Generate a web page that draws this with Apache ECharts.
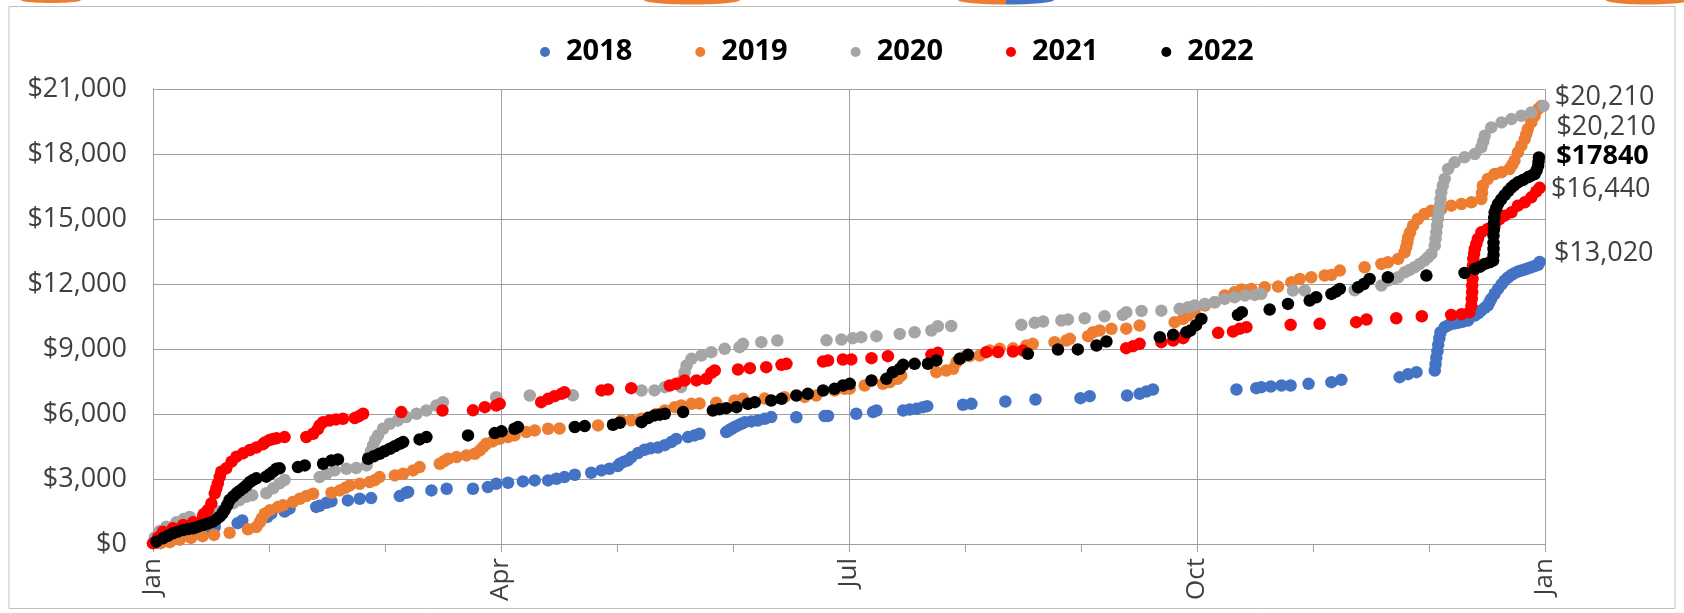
<!DOCTYPE html>
<html>
<head>
<meta charset="utf-8">
<script src="https://cdn.jsdelivr.net/npm/echarts@6/dist/echarts.min.js"></script>
<style>
html,body{margin:0;padding:0;background:#fff;}
#chart{width:1684px;height:613px;}
</style>
</head>
<body>
<div id="chart"></div>
<script>
// ---- data: [day of year, cumulative $] ----
const seriesNames = ['2018', '2019', '2020', '2021', '2022'];
const monthLabels = ['Jan', 'Apr', 'Jul', 'Oct', 'Jan'];
const endLabels = ['$13,020', '$20,210', '$20,210', '$16,440', '$17840'];

const s2018 = [[1,60],[3,150],[6,280],[9,400],[12,520],[14,620],[16.2,780],[22.2,960],[23.4,1090],[30,1250],[31,1400],[34.5,1500],[35.8,1630],[42.8,1710],[43.7,1760],[45.5,1900],[46.8,1970],[51.1,2013],[54.2,2090],[57.2,2121],[64.7,2213],[66.4,2367],[66.9,2398],[73,2475],[77,2551],[83.9,2551],[87.8,2628],[90,2782],[93.1,2828],[97,2890],[100.1,2936],[103.6,2936],[105.8,3012],[107.9,3089],[110.6,3197],[114.9,3289],[117.6,3397],[119.7,3474],[121.9,3600],[122.4,3700],[123.5,3800],[124.5,3858],[125.4,4000],[127.2,4200],[128.9,4350],[130.5,4420],[132.4,4450],[134.2,4560],[135.9,4703],[137.2,4850],[140.3,4934],[142,5011],[143.3,5087],[150.3,5164],[151,5240],[151.7,5318],[152.5,5400],[153.4,5472],[154.3,5550],[155.2,5625],[156.9,5656],[158.6,5702],[160.4,5779],[162.1,5856],[168.7,5850],[176.1,5902],[177,5910],[184.4,6010],[188.8,6087],[189.7,6163],[196.7,6163],[198.4,6209],[200.2,6240],[201.9,6317],[203,6363],[212.4,6425],[214.6,6471],[223.5,6578],[231.4,6671],[243.2,6732],[245.6,6824],[255.4,6855],[258.7,6932],[260.5,7039],[262.2,7132],[284.1,7132],[289.3,7193],[290.6,7239],[293.1,7270],[295.9,7316],[298.3,7316],[303,7393],[309,7470],[311.6,7577],[326.9,7700],[329.1,7839],[331.3,7931],[336.1,8008],[336.3,8300],[336.5,8600],[336.8,8900],[337,9200],[337.3,9500],[337.6,9775],[338.7,10006],[339.5,10080],[340.4,10160],[341.3,10180],[342.2,10206],[343.5,10260],[344.8,10313],[346.6,10544],[347.5,10650],[348.3,10774],[349.2,10900],[350,11005],[350.4,11150],[350.9,11312],[351.8,11550],[352.7,11773],[353.6,11980],[354.4,12158],[355.3,12300],[356.2,12419],[357,12500],[357.9,12573],[358.8,12620],[359.7,12665],[360.5,12720],[361.4,12773],[362.3,12830],[363.2,12880],[363.6,13020]];

const s2019 = [[2,40],[4.4,83],[7,200],[10,280],[13,360],[16,420],[20.1,520],[24.9,676],[27.1,784],[28,1000],[28.5,1168],[29.3,1400],[30.6,1552],[32.8,1706],[34.1,1783],[36.7,1937],[38.5,2090],[40.2,2213],[42,2321],[46.8,2367],[49,2475],[50.5,2600],[51.6,2705],[54.2,2782],[56.8,2859],[58.2,2950],[59.4,3089],[63.4,3166],[65.6,3243],[68.2,3397],[69.9,3550],[75.2,3704],[76.3,3820],[77.4,3935],[79.6,4012],[82.2,4088],[84.4,4165],[85.7,4319],[86.6,4480],[87.4,4626],[89.1,4734],[90.9,4857],[93.1,4934],[94.8,5011],[97.9,5164],[100.1,5241],[103.6,5318],[106.6,5330],[116.7,5472],[122.8,5702],[125.4,5710],[128.1,5779],[130,5850],[132,6000],[134.2,6163],[136.8,6317],[138.5,6394],[141.2,6471],[143.3,6480],[147.7,6517],[152.5,6624],[154.7,6701],[160.4,6710],[165.6,6778],[170.9,6790],[173.9,6855],[178.7,7086],[181.4,7162],[182.7,7170],[186.6,7316],[191.4,7393],[193.2,7470],[195.3,7624],[196.2,7777],[205.4,7931],[208,8008],[209.8,8085],[210.7,8392],[212.4,8623],[214.1,8669],[216.8,8700],[219.4,8930],[222,9007],[225.5,9030],[229,9161],[230.7,9238],[236.4,9315],[239.5,9392],[240.4,9468],[245.2,9591],[246.5,9775],[248.2,9852],[251.3,9929],[255.2,9940],[258.7,10083],[267.9,10237],[270.1,10390],[271.4,10544],[273.1,10698],[275.8,11005],[278.4,11159],[281,11466],[283.6,11620],[285.4,11743],[288,11774],[291.5,11851],[295,11882],[298.5,12081],[300.7,12235],[303.7,12312],[307.2,12389],[309,12419],[311.2,12619],[317.7,12773],[322.1,12926],[323.8,13003],[326.5,13157],[328.2,13464],[328.6,13700],[328.9,13925],[329.1,14150],[329.6,14386],[330.4,14694],[331.7,15001],[333.4,15232],[335.2,15386],[337.8,15463],[340.4,15616],[343.1,15693],[345.7,15770],[348.3,15924],[348.5,16200],[348.7,16538],[350,16845],[351.8,17076],[353.6,17153],[355.7,17307],[356.4,17500],[357,17691],[357.9,18075],[358.8,18383],[359.7,18690],[360.1,18920],[360.5,19151],[361.4,19459],[362.3,19766],[363.2,20073],[364,20210]];

const s2020 = [[0.5,300],[1.8,600],[3.5,800],[6.1,1000],[8,1150],[9.6,1250],[13.1,1350],[15,1420],[17,1500],[19,1650],[21,1878],[22.7,2031],[24.5,2184],[26,2250],[29.7,2341],[31.5,2571],[33.2,2801],[34.5,2954],[43.7,3089],[45.5,3243],[47.6,3397],[50.7,3474],[53.3,3504],[56,3627],[56.8,4088],[57.2,4300],[57.7,4550],[58.3,4800],[59,5011],[60.3,5318],[62.1,5549],[64.2,5702],[66.4,5856],[69.1,6010],[71.7,6163],[74.3,6394],[76,6548],[90,6778],[98.8,6855],[110.1,6860],[128.1,7086],[131.5,7090],[134.2,7239],[138.5,7245],[139,7600],[139.4,7931],[139.9,8238],[141.2,8546],[143.8,8700],[146.4,8853],[149.9,9007],[153.8,9084],[154.7,9238],[159.5,9315],[163.7,9392],[176.6,9400],[180.5,9437],[183.5,9499],[185.7,9545],[189.7,9591],[195.8,9698],[199.7,9775],[204.1,9852],[205.8,10052],[209.3,10060],[227.7,10114],[231.2,10206],[233.4,10268],[238.2,10314],[239.9,10360],[244.3,10421],[249.5,10513],[254.3,10575],[255.2,10698],[259.2,10759],[264.4,10770],[269.2,10852],[271.4,10928],[273.1,11005],[275.8,11082],[278.4,11159],[281,11312],[283.6,11389],[286.3,11466],[288.9,11497],[290.6,11543],[298.9,11697],[302,11700],[315.1,11710],[322.1,11928],[323.8,12158],[325.2,12230],[326.5,12312],[328.2,12542],[329.5,12650],[330.8,12773],[332.1,12920],[333.4,13080],[334.3,13230],[335.2,13387],[336.1,13771],[336.3,14080],[336.5,14386],[336.7,14700],[336.9,15001],[337.1,15300],[337.4,15616],[337.6,15920],[337.8,16231],[338.2,16540],[338.7,16845],[339.6,17307],[341.3,17614],[343.9,17845],[346.6,17998],[348.3,18306],[348.8,18580],[349.2,18844],[350.9,19228],[353.6,19459],[356.2,19612],[358.8,19766],[361.4,19920],[364.6,20210]];

const s2021 = [[0,30],[1.3,300],[2.6,568],[5.2,723],[7.9,877],[10.5,1000],[13.1,1260],[13.5,1400],[14.4,1569],[15.3,1877],[16.2,2339],[16.6,2570],[17,2800],[17.5,3100],[17.9,3338],[19.2,3493],[20.6,3800],[21.9,4031],[23.6,4186],[25.4,4339],[27.1,4450],[28.8,4600],[29.3,4680],[30.6,4800],[31.5,4850],[32.4,4878],[34.5,4934],[40.2,4940],[42,5087],[43.2,5300],[43.7,5472],[44.6,5625],[46.3,5702],[48,5750],[49.8,5779],[52.9,5810],[54,5900],[55.1,6010],[65.1,6087],[75.9,6163],[83.9,6170],[87,6317],[90,6394],[90.9,6471],[101.8,6548],[103.6,6701],[105.3,6824],[107.1,6932],[107.9,7000],[117.6,7090],[119.3,7132],[125.4,7193],[135.5,7316],[137.2,7393],[139.4,7547],[142.5,7550],[145.1,7624],[146.4,7900],[147.3,8008],[153.4,8054],[156.5,8115],[160.8,8161],[164.8,8269],[166.1,8315],[175.7,8423],[177,8469],[180.9,8515],[183.1,8520],[188.4,8577],[192.7,8669],[204.1,8730],[205.8,8823],[218.5,8853],[221.6,8860],[225.5,8884],[228.1,8930],[255.2,9038],[257,9130],[258.7,9238],[264.4,9314],[267.5,9391],[270.1,9499],[270.5,9622],[279.3,9745],[283.2,9806],[284.9,9929],[286.7,10006],[298.3,10114],[305.9,10160],[315.5,10237],[318.2,10360],[326,10421],[332.7,10513],[340.4,10575],[343.1,10606],[345.2,10698],[345.7,11000],[345.8,11312],[345.9,11620],[345.9,11927],[346,12230],[346,12542],[346.1,12850],[346.2,13157],[346.4,13400],[346.6,13618],[347,13850],[347.4,14079],[348.3,14386],[350,14540],[351.8,14694],[353.1,15001],[354.4,15155],[356.2,15309],[357.9,15616],[359.7,15770],[361.4,16001],[362.7,16262],[363.6,16440]];

const s2022 = [[0.9,106],[2.6,263],[3.9,380],[5.2,494],[6.5,570],[7.9,646],[9.2,690],[10.5,725],[11.8,800],[13.1,877],[14.4,950],[15.7,1029],[16.6,1140],[17.5,1260],[18.2,1400],[18.8,1569],[19.5,1800],[20.1,2031],[21,2190],[21.9,2340],[22.7,2450],[23.6,2571],[24.5,2700],[25.4,2860],[26.2,2950],[27.1,3032],[29.7,3106],[30.6,3220],[31.5,3337],[32.4,3474],[33.2,3493],[38,3550],[39.8,3627],[44.6,3704],[46.8,3858],[48.5,3904],[56.4,3935],[57.9,4050],[59.4,4165],[60.7,4280],[62.1,4396],[63.4,4510],[64.7,4626],[65.6,4703],[69.9,4826],[71.7,4934],[82.6,5011],[89.6,5120],[91.4,5200],[94.8,5318],[95.7,5395],[110.6,5400],[113.2,5441],[120.6,5502],[122.4,5595],[128.1,5625],[129.8,5810],[131.5,5933],[132.9,5970],[134.2,6010],[139,6087],[146.8,6163],[148.5,6220],[150.3,6271],[153,6317],[156,6471],[157.8,6548],[162.1,6624],[164.8,6701],[168.7,6855],[171.7,6932],[175.7,7086],[178.7,7162],[180.9,7316],[182.7,7393],[188.4,7547],[192.3,7624],[194,7931],[195.8,8085],[196.7,8269],[199.7,8315],[203.2,8320],[205.4,8469],[211.5,8546],[213.7,8730],[229.4,8776],[237.3,8976],[242.5,8980],[247.4,9161],[250,9345],[264,9545],[267.5,9653],[271,9775],[272,9850],[273.5,10100],[274.9,10390],[284.5,10575],[285.5,10700],[292.8,10821],[297.6,11082],[303.3,11235],[305,11389],[309,11543],[310.2,11650],[311.2,11774],[316,11851],[317.5,12000],[319,12235],[323.8,12312],[333.9,12389],[343.9,12511],[346.6,12695],[348,12800],[349.2,12926],[350.5,13000],[351.4,13080],[351.5,13350],[351.5,13618],[351.5,13900],[351.5,14233],[351.6,14500],[351.6,14800],[351.7,15050],[351.8,15300],[352.2,15500],[352.7,15700],[353.5,15900],[354.4,16100],[355.3,16280],[356.2,16450],[357,16570],[357.9,16692],[359.2,16800],[360.5,16922],[361.4,17000],[362.3,17076],[362.8,17250],[363.2,17461],[363.3,17650],[363.4,17840]];

// ---- styling ----
const allData = [s2018, s2019, s2020, s2021, s2022];
const colors = ['#4472C4', '#ED7D31', '#A5A5A5', '#FF0000', '#000000'];
const labelOffsets = [[8, -9], [9, 21], [5, -9], [5, 2], [11, -1]];
const labelBold = [false, false, false, false, true];
const FONT = 'Open Sans';
const GRID = '#a0a0a0';
const DOT = 12.5;

const chart = echarts.init(document.getElementById('chart'), null, {renderer: 'canvas'});

const series = seriesNames.map((name, k) => {
  const arr = allData[k];
  return {
    name: name,
    type: 'scatter',
    symbol: 'circle',
    symbolSize: DOT,
    itemStyle: {color: colors[k], opacity: 1},
    emphasis: {disabled: true},
    data: arr.map((p, i) => {
      const v = [p[0] * 12 / 365, p[1]];
      if (i === arr.length - 1) {
        return {
          value: v,
          label: {
            show: true,
            position: 'right',
            distance: 0,
            offset: labelOffsets[k],
            formatter: endLabels[k],
            fontFamily: FONT,
            fontSize: 27,
            fontWeight: labelBold[k] ? 'bold' : 'normal',
            color: labelBold[k] ? '#000' : '#404040'
          }
        };
      }
      return v;
    })
  };
});

chart.setOption({
  animation: false,
  backgroundColor: '#fff',
  textStyle: {fontFamily: FONT},
  legend: {
    data: seriesNames.map((n, k) => ({name: n, icon: 'circle', itemStyle: {color: colors[k]}})),
    left: 535,
    top: 31,
    itemWidth: 32,
    itemHeight: 10,
    itemGap: 63,
    selectedMode: false,
    textStyle: {fontFamily: FONT, fontSize: 29, fontWeight: 'bold', color: '#000', lineHeight: 32}
  },
  grid: {left: 153, right: 139, top: 89, bottom: 69, containLabel: false},
  xAxis: {
    type: 'value',
    min: 0,
    max: 12,
    interval: 1,
    axisLine: {show: true, lineStyle: {color: GRID, width: 1}},
    axisTick: {show: true, length: 8, lineStyle: {color: GRID}},
    splitLine: {show: true, lineStyle: {color: [GRID, 'rgba(0,0,0,0)', 'rgba(0,0,0,0)'], width: 1}},
    axisLabel: {
      rotate: 90,
      margin: 14,
      fontFamily: FONT,
      fontSize: 26,
      color: '#404040',
      formatter: function (v) {
        const i = Math.round(v);
        return i % 3 === 0 ? monthLabels[i / 3] : '';
      }
    }
  },
  yAxis: {
    type: 'value',
    min: 0,
    max: 21000,
    interval: 3000,
    axisLine: {show: true, lineStyle: {color: GRID, width: 1}},
    axisTick: {show: false},
    splitLine: {show: true, lineStyle: {color: GRID, width: 1}},
    axisLabel: {
      margin: 26,
      fontFamily: FONT,
      fontSize: 27,
      color: '#404040',
      formatter: function (v) { return '$' + v.toLocaleString('en-US'); }
    }
  },
  graphic: [
    {type: 'rect', silent: true, z: -1, shape: {x: 9, y: 6.5, width: 1666, height: 602}, style: {fill: 'none', stroke: '#bfbfbf', lineWidth: 1}},
    {type: 'ellipse', silent: true, shape: {cx: 51, cy: 0, rx: 30, ry: 3}, style: {fill: '#ED7D31'}},
    {type: 'ellipse', silent: true, shape: {cx: 692, cy: 0, rx: 48, ry: 4.5}, style: {fill: '#ED7D31'}},
    {type: 'sector', silent: true, x: 1006, y: 0, scaleY: 0.095, shape: {cx: 0, cy: 0, r: 48, startAngle: Math.PI / 2, endAngle: Math.PI}, style: {fill: '#ED7D31'}},
    {type: 'sector', silent: true, x: 1006, y: 0, scaleY: 0.095, shape: {cx: 0, cy: 0, r: 48, startAngle: 0, endAngle: Math.PI / 2}, style: {fill: '#4472C4'}},
    {type: 'ellipse', silent: true, shape: {cx: 1648, cy: 0, rx: 42, ry: 4.5}, style: {fill: '#ED7D31'}}
  ],
  series: series
});
</script>
</body>
</html>
